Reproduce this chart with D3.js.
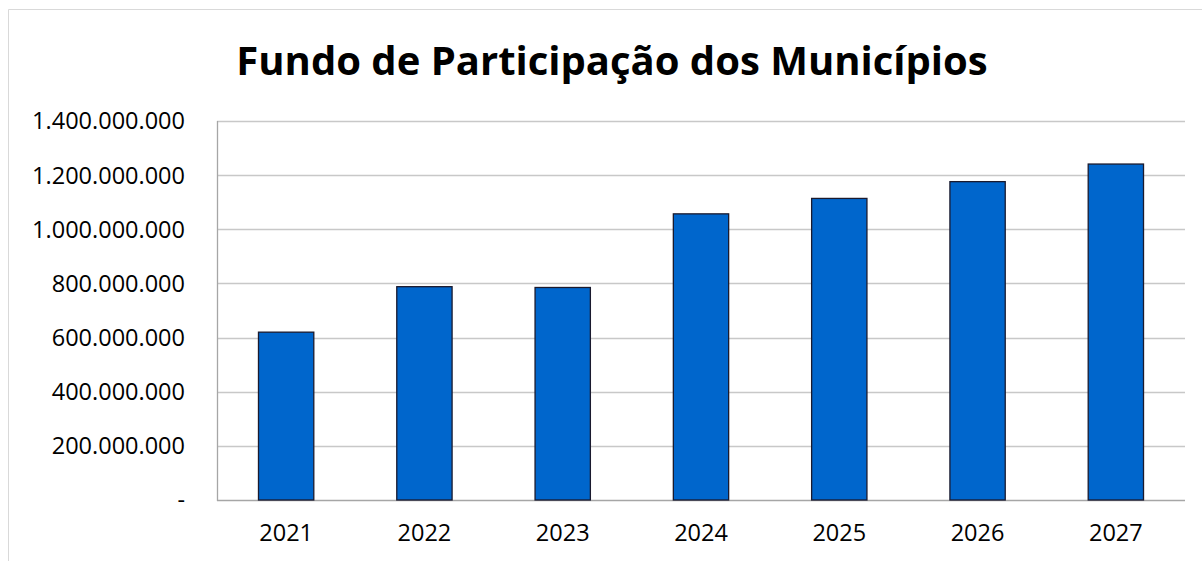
<!DOCTYPE html>
<html>
<head>
<meta charset="utf-8">
<script src="https://cdn.jsdelivr.net/npm/d3@7"></script>
<style>
  body { margin: 0; background: #ffffff; overflow: hidden; }
  svg { display: block; }
</style>
</head>
<body>
<div id="chart"></div>
<script>
// Data
const years = ["2021", "2022", "2023", "2024", "2025", "2026", "2027"];
const values = [620000000, 788000000, 785000000, 1057000000, 1114000000, 1176000000, 1241000000];
const yTicks = [0, 200000000, 400000000, 600000000, 800000000, 1000000000, 1200000000, 1400000000];
const title = "Fundo de Participação dos Municípios";

const width = 1202;
const height = 561;
const margin = { top: 121, right: 17, bottom: 61, left: 217 };
const innerWidth = width - margin.left - margin.right;
const innerHeight = height - margin.top - margin.bottom;
const font = "'Open Sans', sans-serif";

const svg = d3.select("#chart").append("svg")
  .attr("width", width)
  .attr("height", height);

// Outer chart frame (right and bottom edges run past the picture)
svg.append("path")
  .attr("d", `M${width},9.5 H8.5 V${height}`)
  .attr("fill", "none")
  .attr("stroke", "#d9d9d9")
  .attr("stroke-width", 1);

const g = svg.append("g")
  .attr("transform", `translate(${margin.left},${margin.top})`);

const x = d3.scaleBand()
  .domain(years)
  .range([0, innerWidth])
  .paddingInner(0.6)
  .paddingOuter(0.3);

const y = d3.scaleLinear()
  .domain([0, 1400000000])
  .range([innerHeight, 0]);

// Pt-BR style number format: dots as thousands separator
const ptFormat = d3.formatLocale({ decimal: ",", thousands: ".", grouping: [3], currency: ["R$", ""] }).format(",.0f");

// Gridlines
g.append("g")
  .selectAll("line")
  .data(yTicks)
  .enter()
  .append("line")
  .attr("x1", 0)
  .attr("x2", innerWidth)
  .attr("y1", (d) => Math.round(y(d)) + 0.5)
  .attr("y2", (d) => Math.round(y(d)) + 0.5)
  .attr("stroke", (d) => d === 0 ? "#a6a6a6" : "#c8c8c8")
  .attr("stroke-width", 1.3);

// Left border of plot area
g.append("line")
  .attr("x1", 0.5).attr("x2", 0.5)
  .attr("y1", Math.round(y(1400000000)))
  .attr("y2", Math.round(y(0)) + 1)
  .attr("stroke", "#a6a6a6")
  .attr("stroke-width", 1.3);

// Y-axis labels
g.append("g")
  .selectAll("text")
  .data(yTicks)
  .enter()
  .append("text")
  .attr("x", -32)
  .attr("y", (d) => y(d))
  .attr("dy", "0.36em")
  .attr("text-anchor", "end")
  .style("font-family", font)
  .style("font-size", "23.5px")
  .style("fill", "#000000")
  .text((d) => d === 0 ? "-" : ptFormat(d));

// Bars
g.selectAll(".bar")
  .data(values)
  .enter()
  .append("rect")
  .attr("class", "bar")
  .attr("x", (d, i) => x(years[i]))
  .attr("y", (d) => y(d))
  .attr("width", x.bandwidth())
  .attr("height", (d) => y(0) - y(d))
  .attr("fill", "#0066cc")
  .attr("stroke", "#1a1a2e")
  .attr("stroke-width", 1.3);

// X-axis labels
g.append("g")
  .selectAll("text")
  .data(years)
  .enter()
  .append("text")
  .attr("x", (d) => x(d) + x.bandwidth() / 2)
  .attr("y", innerHeight + 41)
  .attr("text-anchor", "middle")
  .style("font-family", font)
  .style("font-size", "23.5px")
  .style("fill", "#000000")
  .text((d) => d);

// Title, fitted to the reference width
const titleText = svg.append("text")
  .attr("x", 612)
  .attr("y", 75)
  .attr("text-anchor", "middle")
  .style("font-family", font)
  .style("font-weight", "bold")
  .style("font-size", "42px")
  .style("fill", "#000000")
  .text(title);

const tw = titleText.node().getComputedTextLength();
titleText.style("font-size", (42 * 752 / tw).toFixed(1) + "px");
</script>
</body>
</html>
